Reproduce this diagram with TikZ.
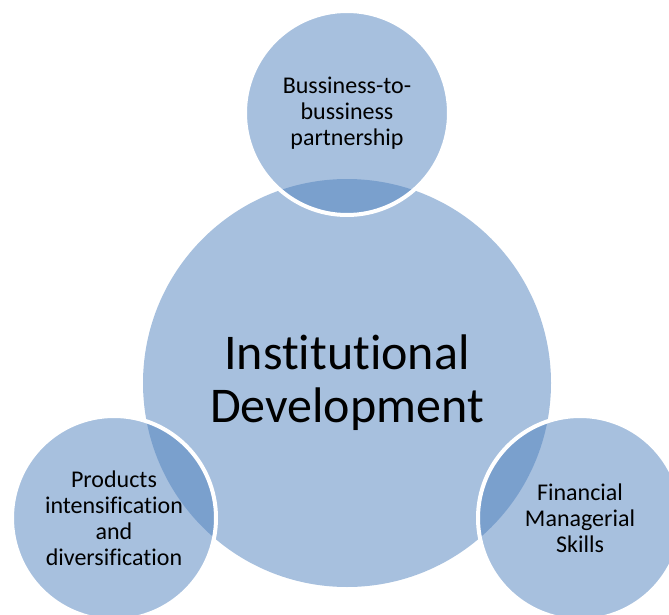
\documentclass[tikz,border=0pt]{standalone}
\usepackage{fontspec}
\setmainfont[Ligatures={NoCommon}]{Carlito}
\definecolor{accentblue}{HTML}{4F81BD}
\begin{document}
\begin{tikzpicture}[x=1pt,y=-1pt,
  bubble/.style={circle, fill=accentblue, fill opacity=0.5, text opacity=1, inner sep=0pt, align=center, text=black},
  hub/.style={bubble, draw=none, minimum size=408pt, font=\fontsize{50}{53}\selectfont},
  satellite/.style={bubble, draw=white, draw opacity=1, line width=4pt, minimum size=204pt, font=\fontsize{24}{26}\selectfont}]
\useasboundingbox (0,0) rectangle (669,615);
\node[hub] (core) at (347,383) {Institutional\\Development};
\node[satellite] (b2b) at (347,113) {Bussiness-to-\\bussiness\\partnership};
\node[satellite] (prod) at (114,518) {Products\\intensification\\and\\diversification};
\node[satellite] (fin) at (580,518) {Financial\\Managerial\\Skills};
\end{tikzpicture}
\end{document}
